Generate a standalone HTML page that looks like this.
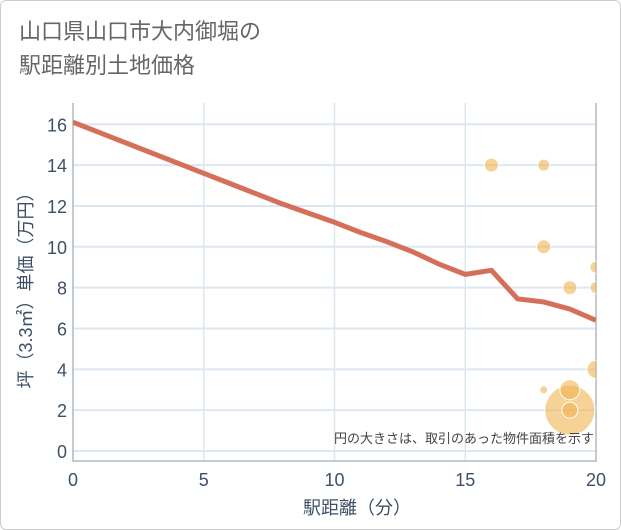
<!DOCTYPE html>
<html><head><meta charset="utf-8"><style>
body{margin:0;background:#fff}
#wrap{position:relative;width:619px;height:528px;border:1px solid #ccc;border-radius:6px;overflow:hidden;font-family:"Liberation Sans","Noto Sans CJK JP",sans-serif}
#title{position:absolute;left:18px;top:14px;font-size:22px;line-height:34px;color:#666}
</style></head><body>
<div id="wrap">
<div id="title">山口県山口市大内御堀の<br>駅距離別土地価格</div>
<svg id="svg" width="621" height="530" style="position:absolute;left:-1px;top:-1px"></svg>
</div>
<script>
const xTicks=[0,5,10,15,20];
const yTicks=[0,2,4,6,8,10,12,14,16];
const lineX=[0,1,2,3,4,5,6,7,8,9,10,11,12,13,14,15,16,17,18,19,20];
const lineY=[16.1,15.6,15.1,14.6,14.1,13.6,13.1,12.6,12.1,11.65,11.2,10.7,10.25,9.75,9.15,8.65,8.85,7.45,7.3,6.95,6.4];
const bubX=[19,16,18,18,19,20,20,20,18,19,19];
const bubY=[2,14,14,10,8,8,9,4,3,3,2];
const bubR=[25,7,6,7,7,6,6,9,4,10,8];
const L=73,R=596,T=103,B=461;
const sx=v=>L+v*(R-L)/20, sy=v=>451-v*20.42;
const svg=document.getElementById('svg'),NS='http://www.w3.org/2000/svg';
function mk(t,a,p){const e=document.createElementNS(NS,t);for(const k in a)e.setAttribute(k,a[k]);(p||svg).appendChild(e);return e;}
const clip=mk('clipPath',{id:'c'});mk('rect',{x:L,y:T,width:R-L,height:B-T},clip);
for(const v of yTicks){const g=mk('line',{x1:L,x2:R,y1:sy(v),y2:sy(v),stroke:'#dde7f0','stroke-width':2});

const t=mk('text',{x:L-6,y:sy(v)+7,'text-anchor':'end','font-size':18,fill:'#3d5066'});t.textContent=v;
}
for(const v of xTicks){if(v>0&&v<20){const g=mk('line',{x1:sx(v),x2:sx(v),y1:T,y2:B,stroke:'#dde7f0','stroke-width':1.5});
}
const t=mk('text',{x:sx(v),y:B+25,'text-anchor':'middle','font-size':18,fill:'#3d5066'});t.textContent=v;
}
const ax=mk('path',{d:`M${L},${T}V${B}H${R}V${T}`,fill:'none',stroke:'#b0b8c0','stroke-width':1.5});

const bg=mk('g',{'clip-path':'url(#c)'});
bubX.forEach((x,i)=>{const c=mk('circle',{cx:sx(x),cy:sy(bubY[i]),r:bubR[i],fill:'rgba(240,180,80,0.6)',stroke:'#fff','stroke-width':1},bg);
});
const d=lineX.map((x,i)=>(i?'L':'M')+sx(x)+','+sy(lineY[i])).join('');
const ln=mk('path',{d:d,fill:'none',stroke:'#d4705a','stroke-width':5,'stroke-linejoin':'round'},bg);

const note=mk('text',{x:R-2,y:443,'text-anchor':'end','font-size':13,fill:'#444'});note.textContent='円の大きさは、取引のあった物件面積を示す';

const xt=mk('text',{x:357,y:514,'text-anchor':'middle','font-size':18,fill:'#3d5066'});xt.textContent='駅距離（分）';

const yt=mk('text',{x:0,y:0,'text-anchor':'middle','font-size':18,fill:'#3d5066',transform:'translate(32,286) rotate(-90)'});yt.textContent='坪（3.3㎡）単価（万円）';

</script>
</body></html>
